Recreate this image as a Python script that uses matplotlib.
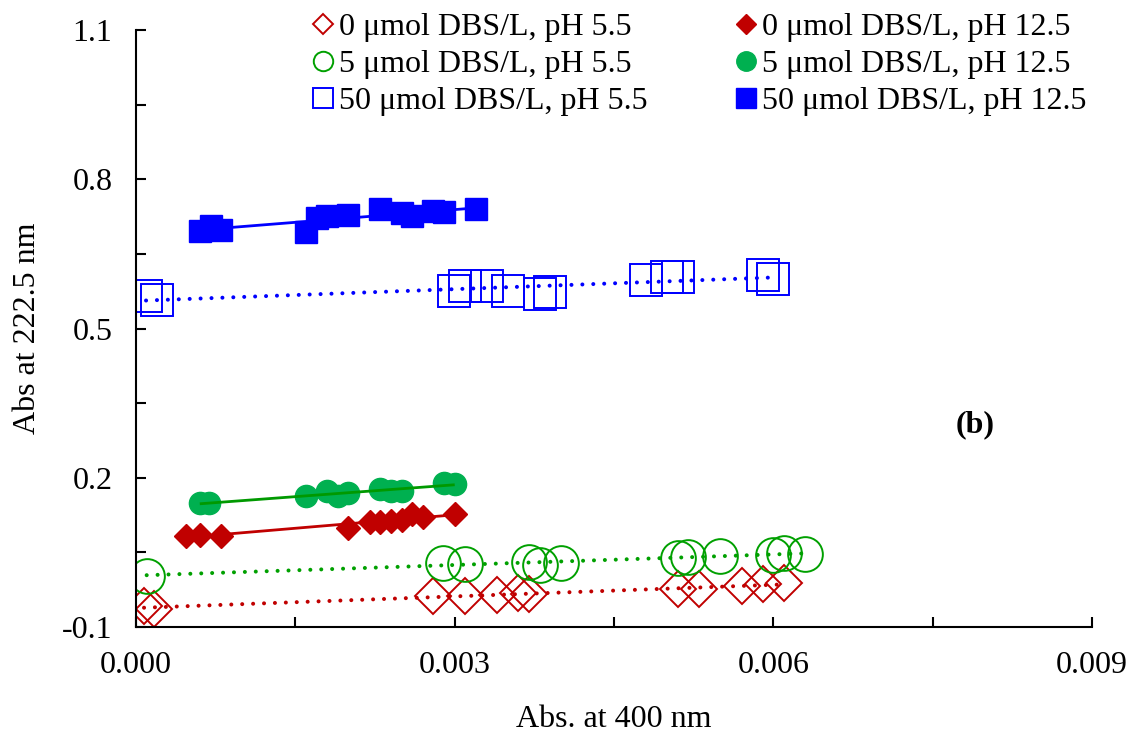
import numpy as np
import matplotlib
matplotlib.use("Agg")
import matplotlib.pyplot as plt
from matplotlib.lines import Line2D
from matplotlib.ticker import FixedLocator, FormatStrFormatter

plt.rcParams['font.family'] = ['Liberation Serif', 'DejaVu Serif']

# --- data (Abs. at 400 nm, Abs at 222.5 nm) ---
x_0_ph55 = [0.000075, 0.00017, 0.0028, 0.0031, 0.0034, 0.0036, 0.0037,
            0.0051, 0.0053, 0.0057, 0.0059, 0.0061]
y_0_ph55 = [-0.058, -0.064, -0.038, -0.038, -0.036, -0.032, -0.034,
            -0.024, -0.024, -0.018, -0.014, -0.012]

x_5_ph55 = [0.0001, 0.00289, 0.0031, 0.0037, 0.0038, 0.004,
            0.0051, 0.0052, 0.0055, 0.006, 0.0061, 0.0063]
y_5_ph55 = [0.003, 0.029, 0.027, 0.031, 0.025, 0.029,
            0.039, 0.041, 0.043, 0.045, 0.049, 0.047]

x_50_ph55 = [0.000094, 0.000198, 0.00299, 0.0031, 0.0033, 0.0035, 0.0038,
             0.0039, 0.0048, 0.005, 0.0051, 0.0059, 0.006]
y_50_ph55 = [0.565, 0.557, 0.575, 0.585, 0.585, 0.575, 0.569,
             0.573, 0.597, 0.604, 0.604, 0.608, 0.600]

x_0_ph125 = [0.00047, 0.0006, 0.0008, 0.002, 0.0022, 0.0023, 0.0024,
             0.0025, 0.0026, 0.0027, 0.003]
y_0_ph125 = [0.083, 0.085, 0.083, 0.099, 0.111, 0.111, 0.113,
             0.115, 0.127, 0.121, 0.127]

x_5_ph125 = [0.0006, 0.00069, 0.0016, 0.0018, 0.0019, 0.002,
             0.0023, 0.0024, 0.0025, 0.0029, 0.003]
y_5_ph125 = [0.149, 0.149, 0.163, 0.173, 0.163, 0.169,
             0.177, 0.173, 0.173, 0.189, 0.187]

x_50_ph125 = [0.0006, 0.000706, 0.0008, 0.0016, 0.0017, 0.0018, 0.002,
              0.0023, 0.0025, 0.0026, 0.0028, 0.0029, 0.0032]
y_50_ph125 = [0.696, 0.706, 0.698, 0.694, 0.722, 0.726, 0.728,
              0.740, 0.732, 0.726, 0.736, 0.734, 0.740]

labels = ['0 μmol DBS/L, pH 5.5', '5 μmol DBS/L, pH 5.5', '50 μmol DBS/L, pH 5.5',
          '0 μmol DBS/L, pH 12.5', '5 μmol DBS/L, pH 12.5', '50 μmol DBS/L, pH 12.5']

y_major = [-0.1, 0.2, 0.5, 0.8, 1.1]
y_minor = [0.05, 0.35, 0.65, 0.95]
x_major = [0.0, 0.003, 0.006, 0.009]
x_minor = [0.0015, 0.0045, 0.0075]

RED = '#C00000'
GREEN_L = '#00A000'
GREEN_F = '#00B050'
BLUE = '#0000FF'
DOT = (0, (0.01, 2.7))
FS = 23

fig = plt.figure(figsize=(11.3, 7.33), dpi=100)
ax = fig.add_axes([0.1204, 0.1446, 0.846, 0.8144])


def trend(x, y, color, ls, lw):
    x = np.asarray(x)
    k, b = np.polyfit(x, y, 1)
    xs = np.array([x.min(), x.max()])
    ax.plot(xs, k * xs + b, color=color, linestyle=ls, lw=lw,
            dash_capstyle='round', solid_capstyle='butt', zorder=3)


# pH 5.5, open markers with dotted trend lines
ax.plot(x_0_ph55, y_0_ph55, 'D', ms=18, mfc='none', mec=RED, mew=1.4, zorder=2)
trend(x_0_ph55, y_0_ph55, RED, DOT, 2.9)
ax.plot(x_5_ph55, y_5_ph55, 'o', ms=25, mfc='none', mec=GREEN_L, mew=1.4, zorder=2)
trend(x_5_ph55, y_5_ph55, GREEN_L, DOT, 2.9)
ax.plot(x_50_ph55, y_50_ph55, 's', ms=23, mfc='none', mec=BLUE, mew=1.4, zorder=2)
trend(x_50_ph55, y_50_ph55, BLUE, DOT, 2.9)

# pH 12.5, filled markers with solid trend lines
ax.plot(x_0_ph125, y_0_ph125, 'D', ms=12.5, mfc=RED, mec=RED, zorder=2)
trend(x_0_ph125, y_0_ph125, RED, '-', 2.0)
ax.plot(x_5_ph125, y_5_ph125, 'o', ms=16, mfc=GREEN_F, mec=GREEN_F, zorder=2)
trend(x_5_ph125, y_5_ph125, '#009900', '-', 2.0)
ax.plot(x_50_ph125, y_50_ph125, 's', ms=16, mfc=BLUE, mec=BLUE, zorder=2)
trend(x_50_ph125, y_50_ph125, BLUE, '-', 2.0)

# axes styling
ax.set_xlim(0, 0.009)
ax.set_ylim(-0.1, 1.1)
ax.xaxis.set_major_locator(FixedLocator(x_major))
ax.xaxis.set_minor_locator(FixedLocator(x_minor))
ax.yaxis.set_major_locator(FixedLocator(y_major))
ax.yaxis.set_minor_locator(FixedLocator(y_minor))
ax.xaxis.set_major_formatter(FormatStrFormatter('%.3f'))
ax.yaxis.set_major_formatter(FormatStrFormatter('%.1f'))
ax.spines['top'].set_visible(False)
ax.spines['right'].set_visible(False)
for s in ('left', 'bottom'):
    ax.spines[s].set_linewidth(1.5)
ax.tick_params(which='both', direction='in', length=7, width=1.5, labelsize=FS)
ax.tick_params(axis='x', pad=17)
ax.tick_params(axis='y', pad=17)

ax.set_xlabel('Abs. at 400 nm', fontsize=FS, labelpad=18)
ax.set_ylabel('Abs at 222.5 nm', fontsize=FS, labelpad=14)
ax.text(0.0079, 0.306, '(b)', fontsize=FS, fontweight='bold', ha='center', va='center')

# legend with smaller proxy markers
handles = [
    Line2D([], [], ls='none', marker='D', ms=10, mfc='none', mec=RED, mew=1.4),
    Line2D([], [], ls='none', marker='o', ms=14, mfc='none', mec=GREEN_L, mew=1.4),
    Line2D([], [], ls='none', marker='s', ms=14, mfc='none', mec=BLUE, mew=1.4),
    Line2D([], [], ls='none', marker='D', ms=10, mfc=RED, mec=RED),
    Line2D([], [], ls='none', marker='o', ms=14, mfc=GREEN_F, mec=GREEN_F),
    Line2D([], [], ls='none', marker='s', ms=14, mfc=BLUE, mec=BLUE),
]
ax.legend(handles, labels, ncol=2, frameon=False, fontsize=FS,
          loc='upper left', bbox_to_anchor=(0.172, 1.05),
          handlelength=0.6, handletextpad=0.2, columnspacing=2.8,
          labelspacing=0.23, borderaxespad=0)

fig.savefig('out.png', dpi=100)
